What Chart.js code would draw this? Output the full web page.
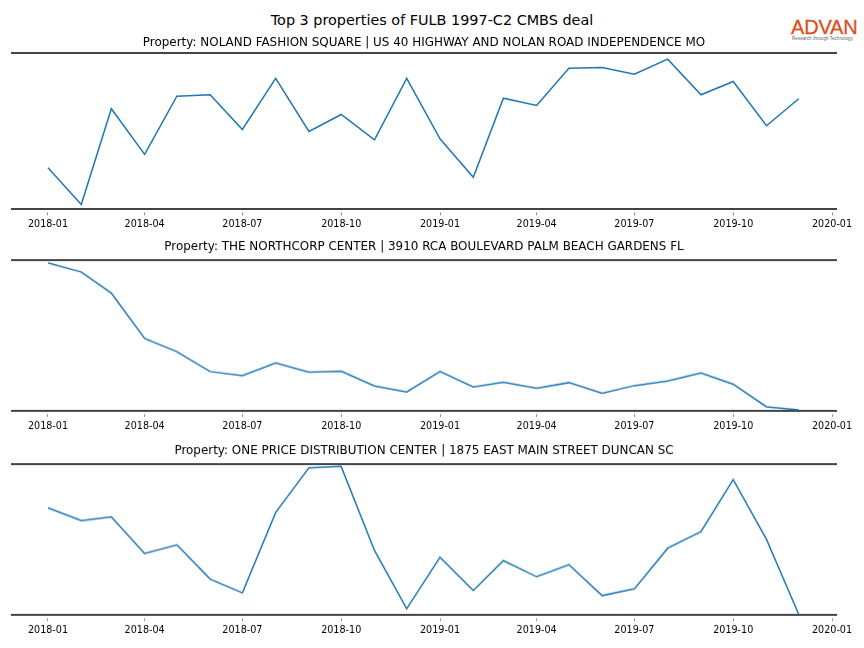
<!DOCTYPE html>
<html>
<head>
<meta charset="utf-8">
<script src="https://cdn.jsdelivr.net/npm/chart.js@4.4.1/dist/chart.umd.min.js"></script>
<style>
    body { margin: 0; background: #fff; }
    #fig { position: relative; width: 864px; height: 648px; overflow: hidden; font-family: 'DejaVu Sans', sans-serif; }
    .panel { position: absolute; left: 0; width: 864px; }
    #mainTitle { position: absolute; left: 0; width: 864px; top: 12px; height: 16px; line-height: 16px; text-align: center; font-size: 14.4px; color: #000; }
    #logo { position: absolute; left: 791px; top: 17px; font-family: 'Liberation Sans', Arial, sans-serif; font-size: 20px; line-height: 20px; color: #e04e22; font-weight: 500; letter-spacing: -0.2px; -webkit-text-stroke: 0.3px #e04e22; }
    #tagline { position: absolute; left: 792px; top: 36px; font-family: 'Liberation Sans', Arial, sans-serif; font-size: 4.6px; line-height: 5px; color: #666; white-space: nowrap; }
</style>
</head>
<body>
<div id="fig">
    <div id="mainTitle">Top 3 properties of FULB 1997-C2 CMBS deal</div>
    <div id="logo">ADVAN</div>
    <div id="tagline">Research through Technology</div>
</div>
<script>
// monthly observations, 2018-01 .. 2019-12
const months = ['2018-01', '2018-02', '2018-03', '2018-04', '2018-05', '2018-06',
    '2018-07', '2018-08', '2018-09', '2018-10', '2018-11', '2018-12',
    '2019-01', '2019-02', '2019-03', '2019-04', '2019-05', '2019-06',
    '2019-07', '2019-08', '2019-09', '2019-10', '2019-11', '2019-12'];
const tickLabels = ['2018-01', '2018-04', '2018-07', '2018-10', '2019-01',
    '2019-04', '2019-07', '2019-10', '2020-01'];

const propertyTitles = [
    'Property: NOLAND FASHION SQUARE | US 40 HIGHWAY AND NOLAN ROAD INDEPENDENCE MO',
    'Property: THE NORTHCORP CENTER | 3910 RCA BOULEVARD PALM BEACH GARDENS FL',
    'Property: ONE PRICE DISTRIBUTION CENTER | 1875 EAST MAIN STREET DUNCAN SC'
];

// values (relative units, no y axis shown)
const nolandValues = [41.4, 4.7, 100.4, 54.7, 113, 114.4, 79.7, 130.7, 77.7, 94.7, 69.4, 130.7,
    70.4, 32, 111, 103.7, 141, 141.7, 135, 150, 114.4, 127.7, 83.4, 110.4];
const northcorpValues = [147, 138, 117, 72, 58.7, 39, 35, 47.7, 38.4, 39.4, 24.7, 18.7,
    39, 23.7, 28.4, 22.4, 28, 17.4, 25, 29.7, 37.7, 26.4, 4, 1];
const onePriceValues = [106, 93.4, 97, 60.7, 69.4, 35.4, 21.7, 101.4, 145.7, 147, 63.7, 6,
    57, 24, 53.7, 37.7, 49.7, 19, 25.7, 66, 82.4, 134, 74.7, 0.4];

const seriesList = [nolandValues, northcorpValues, onePriceValues];

// layout of each panel: subtitle centre, plot top/bottom, y limits
const panels = [
    { titleY: 42.7, top: 52.7, bottom: 208.7, yMax: 156 },
    { titleY: 247, top: 260, bottom: 409.7, yMax: 149.7 },
    { titleY: 451, top: 463.5, bottom: 613.7, yMax: 149.7 }
];

const DAY = 86400000;
const origin = Date.UTC(2018, 0, 1);
function dayOf(label) {
    const [y, m] = label.split('-').map(Number);
    return (Date.UTC(y, m - 1, 1) - origin) / DAY;
}

const AXIS_H = 30;
const spineColor = '#444';
const fig = document.getElementById('fig');

panels.forEach((p, i) => {
    const boxTop = p.titleY - 7.2;
    const height = p.bottom - boxTop + AXIS_H;
    const div = document.createElement('div');
    div.className = 'panel';
    div.style.top = boxTop + 'px';
    div.style.height = height + 'px';
    const canvas = document.createElement('canvas');
    div.appendChild(canvas);
    fig.appendChild(div);

    new Chart(canvas.getContext('2d'), {
        type: 'line',
        data: {
            datasets: [{
                data: months.map((m, k) => ({ x: dayOf(m), y: seriesList[i][k] })),
                borderColor: '#1f77b4',
                borderWidth: 1.5,
                pointRadius: 0,
                tension: 0,
                fill: false
            }]
        },
        options: {
            responsive: true,
            maintainAspectRatio: false,
            animation: false,
            events: [],
            layout: { padding: { left: 12, right: 28, top: 0, bottom: 0 } },
            plugins: {
                legend: { display: false },
                tooltip: { enabled: false },
                title: {
                    display: true,
                    text: propertyTitles[i],
                    color: '#000',
                    font: { family: 'DejaVu Sans', size: 11.95, weight: 'normal', lineHeight: 1.2 },
                    padding: { top: 0, bottom: p.top - p.titleY - 7.2 }
                }
            },
            scales: {
                x: {
                    type: 'linear',
                    position: 'bottom',
                    min: -33.5,
                    max: 733.7,
                    afterBuildTicks: (scale) => {
                        scale.ticks = tickLabels.map(l => ({ value: dayOf(l) }));
                    },
                    afterFit: (scale) => { scale.height = AXIS_H; },
                    ticks: {
                        callback: (v, idx) => tickLabels[idx],
                        color: '#000',
                        font: { family: 'DejaVu Sans', size: 9.6 },
                        padding: 4,
                        maxRotation: 0,
                        autoSkip: false
                    },
                    grid: {
                        drawOnChartArea: false,
                        drawTicks: true,
                        tickLength: 6,
                        tickColor: '#888',
                        tickWidth: 1,
                        tickBorderDash: [0, 2.5, 3, 20]
                    },
                    border: { display: true, color: spineColor, width: 2 }
                },
                xTop: {
                    type: 'linear',
                    position: 'top',
                    min: -33.5,
                    max: 733.7,
                    afterFit: (scale) => { scale.height = 0; },
                    ticks: { display: false },
                    grid: { display: true, drawOnChartArea: false, drawTicks: false },
                    border: { display: true, color: spineColor, width: 2 }
                },
                y: {
                    display: false,
                    min: 0,
                    max: p.yMax
                }
            }
        }
    });
});
</script>
</body>
</html>
